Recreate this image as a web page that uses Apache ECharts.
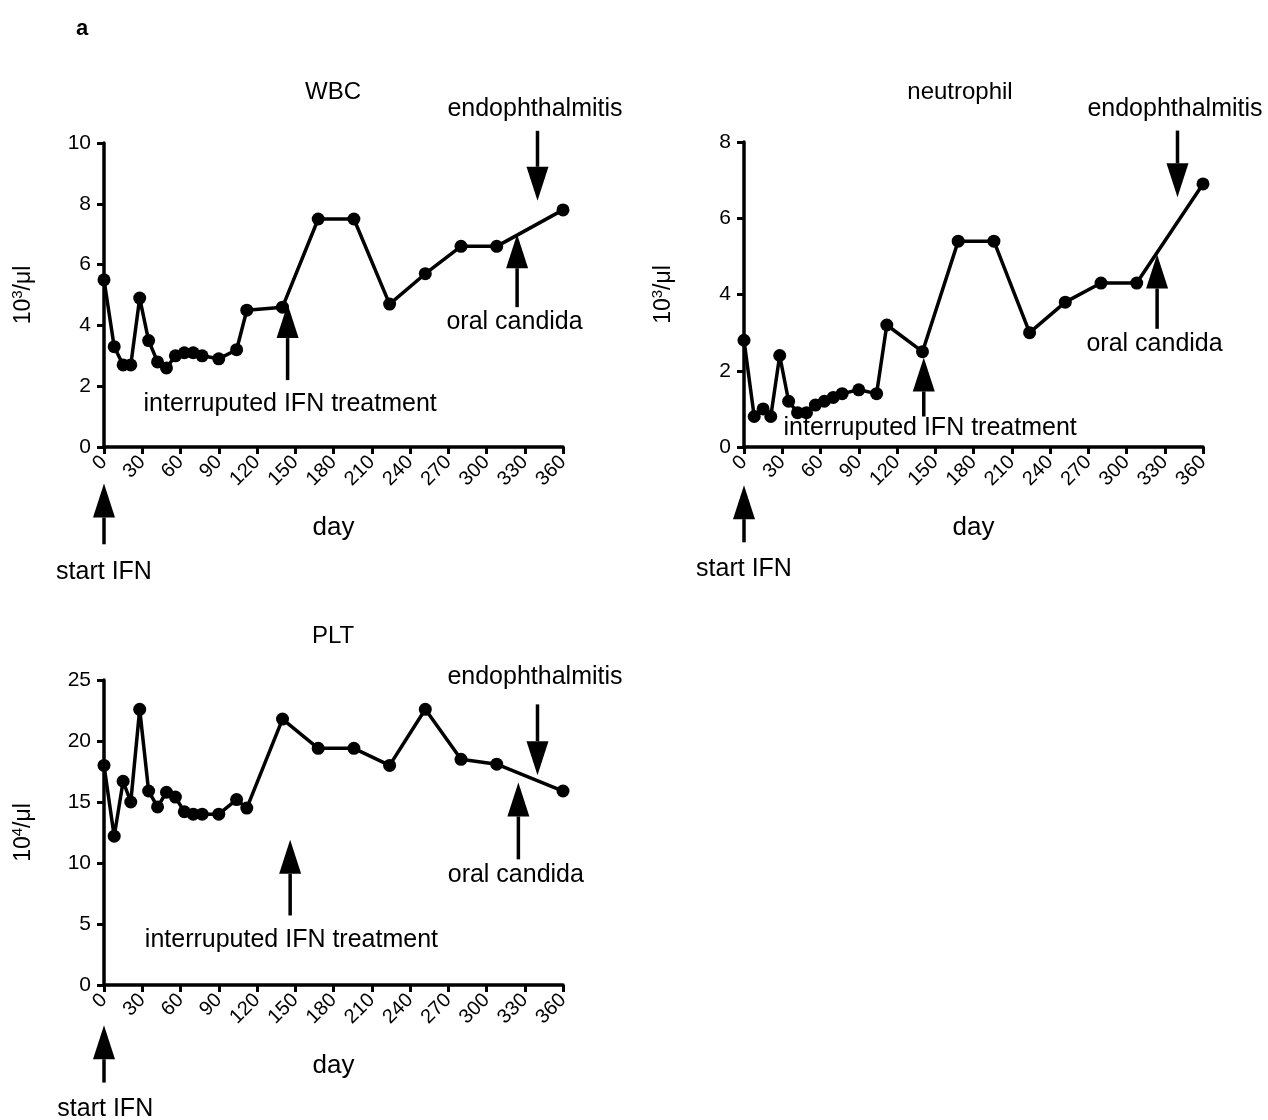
<!DOCTYPE html>
<html>
<head>
<meta charset="utf-8">
<script src="https://cdn.jsdelivr.net/npm/echarts@6/dist/echarts.min.js"></script>
<style>
html, body { margin: 0; padding: 0; background: #fff; }
#chart { width: 1268px; height: 1120px; }
</style>
</head>
<body>
<div id="chart"></div>
<script>
// sampling days (shared by the three panels)
const days = [0, 8, 15, 21, 28, 35, 42, 49, 56, 63, 70, 77, 90, 104, 112, 140, 168, 196, 224, 252, 280, 308, 360];

// values
const wbc = [5.5, 3.3, 2.7, 2.7, 4.9, 3.5, 2.8, 2.6, 3.0, 3.1, 3.1, 3.0, 2.9, 3.2, 4.5, 4.6, 7.5, 7.5, 4.7, 5.7, 6.6, 6.6, 7.8];
const neutrophil = [2.8, 0.8, 1.0, 0.8, 2.4, 1.2, 0.9, 0.9, 1.1, 1.2, 1.3, 1.4, 1.5, 1.4, 3.2, 2.5, 5.4, 5.4, 3.0, 3.8, 4.3, 4.3, 6.9];
const plt = [18.0, 12.2, 16.7, 15.0, 22.6, 15.9, 14.6, 15.8, 15.4, 14.2, 14.0, 14.0, 14.0, 15.2, 14.5, 21.8, 19.4, 19.4, 18.0, 22.6, 18.5, 18.1, 15.9];

const titles = ['WBC', 'neutrophil', 'PLT'];
const yMax = [10, 8, 25];
const yStep = [2, 2, 5];

// annotation arrows in data units: [day, tail value, tip value]
const wbcArrows = [[0, -3.2, -1.2], [144, 2.2, 4.7], [324, 4.6, 7.0], [340, 10.4, 8.1]];
const neuArrows = [[0, -2.5, -1.0], [141, 0.8, 2.35], [324, 3.1, 5.05], [340, 8.3, 6.55]];
const pltArrows = [[0, -8.0, -3.3], [146, 5.7, 11.9], [325, 10.3, 16.6], [340, 23.0, 17.2]];

// annotation labels: [text, day, value]
const wbcNotes = [['start IFN', 0, -4.1], ['interruputed IFN treatment', 146, 1.4], ['oral candida', 322, 4.1], ['endophthalmitis', 338, 11.1]];
const neuNotes = [['start IFN', 0, -3.2], ['interruputed IFN treatment', 146, 0.5], ['oral candida', 322, 2.7], ['endophthalmitis', 338, 8.85]];
const pltNotes = [['start IFN', 1, -10.2], ['interruputed IFN treatment', 147, 3.7], ['oral candida', 323, 9.0], ['endophthalmitis', 338, 25.2]];

const FONT = '"Liberation Sans", Arial, Helvetica, sans-serif';

const grids = [
  { left: 104, top: 143, width: 459, height: 304 },
  { left: 744, top: 142, width: 459, height: 305 },
  { left: 104, top: 680, width: 459, height: 305 }
];
const titlePos = [[333, 80], [960, 80], [333, 624]];
const yNames = ['{n|10}{s|3}{n|/μl}', '{n|10}{s|3}{n|/μl}', '{n|10}{s|4}{n|/μl}'];

const zip = vals => days.map((d, i) => [d, vals[i]]);
const seriesData = [zip(wbc), zip(neutrophil), zip(plt)];

const chartDom = document.getElementById('chart');
const chart = echarts.init(chartDom, null, { renderer: 'canvas' });

const option = {
  animation: false,
  backgroundColor: '#fff',
  textStyle: { fontFamily: FONT, color: '#000' },
  title: titles.map((t, i) => ({
    text: t,
    left: titlePos[i][0],
    top: titlePos[i][1],
    textAlign: 'center',
    padding: 0,
    textStyle: { fontFamily: FONT, fontSize: 24, fontWeight: 'normal', color: '#000' }
  })),
  grid: grids.map(g => Object.assign({ outerBoundsMode: 'none', containLabel: false }, g)),
  xAxis: grids.map((g, i) => ({
    type: 'value',
    gridIndex: i,
    min: 0,
    max: 360,
    interval: 30,
    name: 'day',
    nameLocation: 'middle',
    nameGap: 68,
    nameTextStyle: { fontFamily: FONT, fontSize: 26, color: '#000' },
    axisLine: { show: true, onZero: false, lineStyle: { color: '#000', width: 3.5 } },
    axisTick: { show: true, inside: false, length: 7, lineStyle: { color: '#000', width: 3 } },
    axisLabel: { rotate: 45, margin: 12, fontSize: 20, color: '#000', fontFamily: FONT },
    splitLine: { show: false }
  })),
  yAxis: grids.map((g, i) => ({
    type: 'value',
    gridIndex: i,
    min: 0,
    max: yMax[i],
    interval: yStep[i],
    name: yNames[i],
    nameLocation: 'middle',
    nameGap: 66,
    nameTextStyle: {
      color: '#000',
      rich: {
        n: { fontFamily: FONT, fontSize: 23, lineHeight: 28, color: '#000' },
        s: { fontFamily: FONT, fontSize: 15, lineHeight: 28, verticalAlign: 'top', color: '#000' }
      }
    },
    axisLine: { show: true, onZero: false, lineStyle: { color: '#000', width: 3.5 } },
    axisTick: { show: true, inside: false, length: 7, lineStyle: { color: '#000', width: 3 } },
    axisLabel: { margin: 13, fontSize: 21, color: '#000', fontFamily: FONT },
    splitLine: { show: false }
  })),
  series: seriesData.map((d, i) => ({
    type: 'line',
    xAxisIndex: i,
    yAxisIndex: i,
    data: d,
    clip: false,
    symbol: 'circle',
    symbolSize: 13,
    lineStyle: { color: '#000', width: 3.5 },
    itemStyle: { color: '#000' }
  }))
};

chart.setOption(option);

// arrows and labels placed through each panel's own axes
function buildGraphics() {
  const elements = [];
  const sets = [[wbcArrows, wbcNotes], [neuArrows, neuNotes], [pltArrows, pltNotes]];
  sets.forEach((set, gi) => {
    set[0].forEach(a => {
      const tail = chart.convertToPixel({ gridIndex: gi }, [a[0], a[1]]);
      const tip = chart.convertToPixel({ gridIndex: gi }, [a[0], a[2]]);
      const dir = tip[1] > tail[1] ? 1 : -1;
      const base = tip[1] - dir * 34;
      elements.push({
        type: 'line',
        shape: { x1: tip[0], y1: tail[1], x2: tip[0], y2: base },
        style: { stroke: '#000', lineWidth: 3.5 }
      });
      elements.push({
        type: 'polygon',
        shape: { points: [[tip[0], tip[1]], [tip[0] - 11, base], [tip[0] + 11, base]] },
        style: { fill: '#000' }
      });
    });
    set[1].forEach(n => {
      const p = chart.convertToPixel({ gridIndex: gi }, [n[1], n[2]]);
      elements.push({
        type: 'text',
        x: p[0],
        y: p[1],
        style: {
          text: n[0],
          fill: '#000',
          font: '25px ' + FONT,
          align: 'center',
          verticalAlign: 'middle'
        }
      });
    });
  });
  // panel letter
  elements.push({
    type: 'text',
    left: 76,
    top: 18,
    style: { text: 'a', fill: '#000', font: 'bold 22px ' + FONT }
  });
  return elements;
}

chart.setOption({ graphic: buildGraphics() });

window.addEventListener('resize', () => chart.resize());
</script>
</body>
</html>
